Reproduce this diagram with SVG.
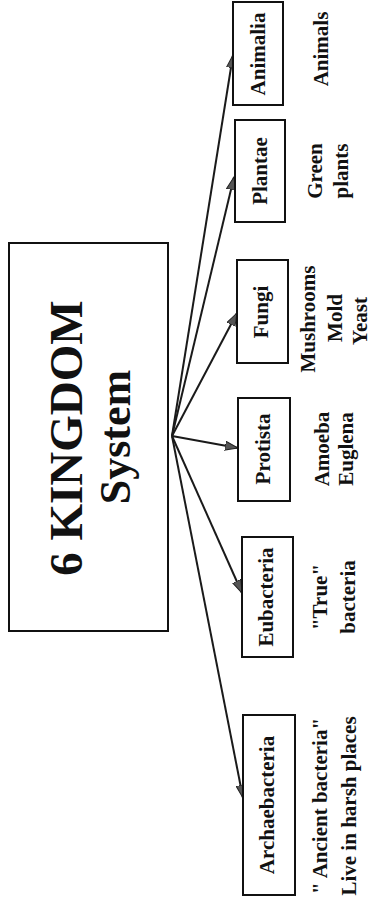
<svg xmlns="http://www.w3.org/2000/svg" width="372" height="905" viewBox="0 0 372 905">
  <style>
    text { font-family: "Liberation Serif", "Times New Roman", serif; font-weight: bold; fill: #111; text-anchor: middle; }
    .box { fill: #fff; stroke: #111; stroke-width: 2; }
    .lbl { font-size: 21px; }
    .desc { font-size: 21px; }
    .title { font-size: 47px; }
    .sub { font-size: 44px; }
    .conn { stroke: #1a1a1a; stroke-width: 2; fill: none; marker-end: url(#head); }
  </style>
  <defs>
    <marker id="head" markerUnits="userSpaceOnUse" markerWidth="14" markerHeight="10" refX="13" refY="5" orient="auto">
      <path d="M0,0.5 L13,5 L0,9.5 Z" fill="#555" stroke="#222" stroke-width="1"/>
    </marker>
  </defs>
  <rect width="372" height="905" fill="#fff"/>

  <!-- central node -->
  <g id="system">
    <rect class="box" x="9" y="243" width="159" height="388"/>
    <text class="title" transform="translate(82,438) rotate(-90)">6 KINGDOM</text>
    <text class="sub" transform="translate(130,437) rotate(-90)">System</text>
  </g>

  <!-- connectors -->
  <g id="connectors">
    <line class="conn" x1="172" y1="436" x2="233" y2="55"/>
    <line class="conn" x1="172" y1="436" x2="234" y2="177"/>
    <line class="conn" x1="172" y1="436" x2="237" y2="313"/>
    <line class="conn" x1="172" y1="436" x2="238" y2="448"/>
    <line class="conn" x1="172" y1="436" x2="242" y2="593"/>
    <line class="conn" x1="172" y1="436" x2="243" y2="798"/>
  </g>

  <g id="animalia">
    <rect class="box" x="233" y="2" width="50" height="103"/>
    <text class="lbl" transform="translate(265,54) rotate(-90)">Animalia</text>
    <text class="desc" transform="translate(328,49) rotate(-90)">Animals</text>
  </g>

  <g id="plantae">
    <rect class="box" x="235" y="120" width="50" height="102"/>
    <text class="lbl" transform="translate(267,171) rotate(-90)">Plantae</text>
    <text class="desc" transform="translate(322,171) rotate(-90)">Green</text>
    <text class="desc" transform="translate(348,171) rotate(-90)">plants</text>
  </g>

  <g id="fungi">
    <rect class="box" x="237" y="260" width="51" height="103"/>
    <text class="lbl" transform="translate(268,312) rotate(-90)">Fungi</text>
    <text class="desc" transform="translate(315,319) rotate(-90)">Mushrooms</text>
    <text class="desc" transform="translate(342,318) rotate(-90)">Mold</text>
    <text class="desc" transform="translate(367,321) rotate(-90)">Yeast</text>
  </g>

  <g id="protista">
    <rect class="box" x="238" y="398" width="52" height="103"/>
    <text class="lbl" transform="translate(270,449) rotate(-90)">Protista</text>
    <text class="desc" transform="translate(329,449) rotate(-90)">Amoeba</text>
    <text class="desc" transform="translate(353,449) rotate(-90)">Euglena</text>
  </g>

  <g id="eubacteria">
    <rect class="box" x="242" y="537" width="51" height="120"/>
    <text class="lbl" transform="translate(273,597) rotate(-90)">Eubacteria</text>
    <text class="desc" transform="translate(327,597) rotate(-90)">"True"</text>
    <text class="desc" transform="translate(355,597) rotate(-90)">bacteria</text>
  </g>

  <g id="archaebacteria">
    <rect class="box" x="243" y="715" width="52" height="180"/>
    <text class="lbl" transform="translate(274,805) rotate(-90)">Archaebacteria</text>
    <text class="desc" transform="translate(327,806) rotate(-90)">" Ancient bacteria"</text>
    <text class="desc" transform="translate(356,806) rotate(-90)">Live in harsh places</text>
  </g>
</svg>
